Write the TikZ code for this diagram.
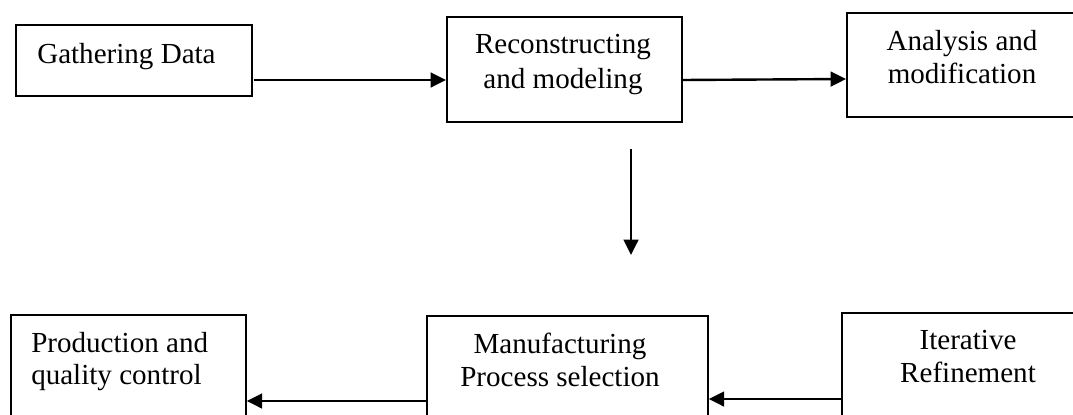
\documentclass[tikz,border=0pt]{standalone}
\usepackage{fontspec}
\setmainfont{Liberation Serif}
\usetikzlibrary{arrows.meta,calc}
\begin{document}
\begin{tikzpicture}[x=0.75pt,y=-0.75pt,
  box/.style={draw=black,line width=1.3pt,rectangle,inner sep=0pt,anchor=north west},
  lbl/.style={font=\fontsize{21.8}{25}\selectfont,inner sep=0pt,align=center,anchor=base},
  lblL/.style={font=\fontsize{21.8}{25}\selectfont,inner sep=0pt,align=left,anchor=base west},
  conn/.style={line width=1.8pt,-{Triangle[length=11.5pt,width=11pt]}}]
\useasboundingbox (0,0) rectangle (1073,414);
\clip (0,0) rectangle (1073,414);
% boxes
\node[box,minimum width=236*0.75pt,minimum height=71*0.75pt] (b1) at (15,24) {};
\node[box,minimum width=235*0.75pt,minimum height=105*0.75pt] (b2) at (446,16) {};
\node[box,minimum width=240*0.75pt,minimum height=104*0.75pt] (b3) at (846,12) {};
\node[box,minimum width=235*0.75pt,minimum height=110*0.75pt] (b4) at (10,314) {};
\node[box,minimum width=281*0.75pt,minimum height=110*0.75pt] (b5) at (426,315) {};
\node[box,minimum width=245*0.75pt,minimum height=110*0.75pt] (b6) at (841,312) {};
% texts
\node[lblL] (t1) at (37,63) {Gathering Data};
\node[lbl] (t2a) at (563,53) {Reconstructing};
\node[lbl] (t2b) at (563,88) {and modeling};
\node[lbl] (t3a) at (962,50) {Analysis and};
\node[lbl] (t3b) at (962,83) {modification};
\node[lblL] (t4a) at (31,352) {Production and};
\node[lblL] (t4b) at (31,384) {quality control};
\node[lbl] (t5a) at (560,353) {Manufacturing};
\node[lbl] (t5b) at (560,386) {Process selection};
\node[lbl] (t6a) at (968,349) {Iterative};
\node[lbl] (t6b) at (968,382) {Refinement};
% free vertical arrow
\coordinate (vs) at (631,149);
\coordinate (ve) at (631,255);
% connectors
\draw[conn] ($(b1.north east)+(1,56)$) -- ($(b2.north west)+(0,64)$);
\draw[conn] ($(b2.north east)+(0,64)$) -- ($(b3.north west)+(0,67)$);
\draw[conn] (vs) -- (ve);
\draw[conn] ($(b5.north west)+(0,86)$) -- ($(b4.north east)+(0,87)$);
\draw[conn] ($(b6.north west)+(0,87)$) -- ($(b5.north east)+(0,84)$);
\end{tikzpicture}
\end{document}
